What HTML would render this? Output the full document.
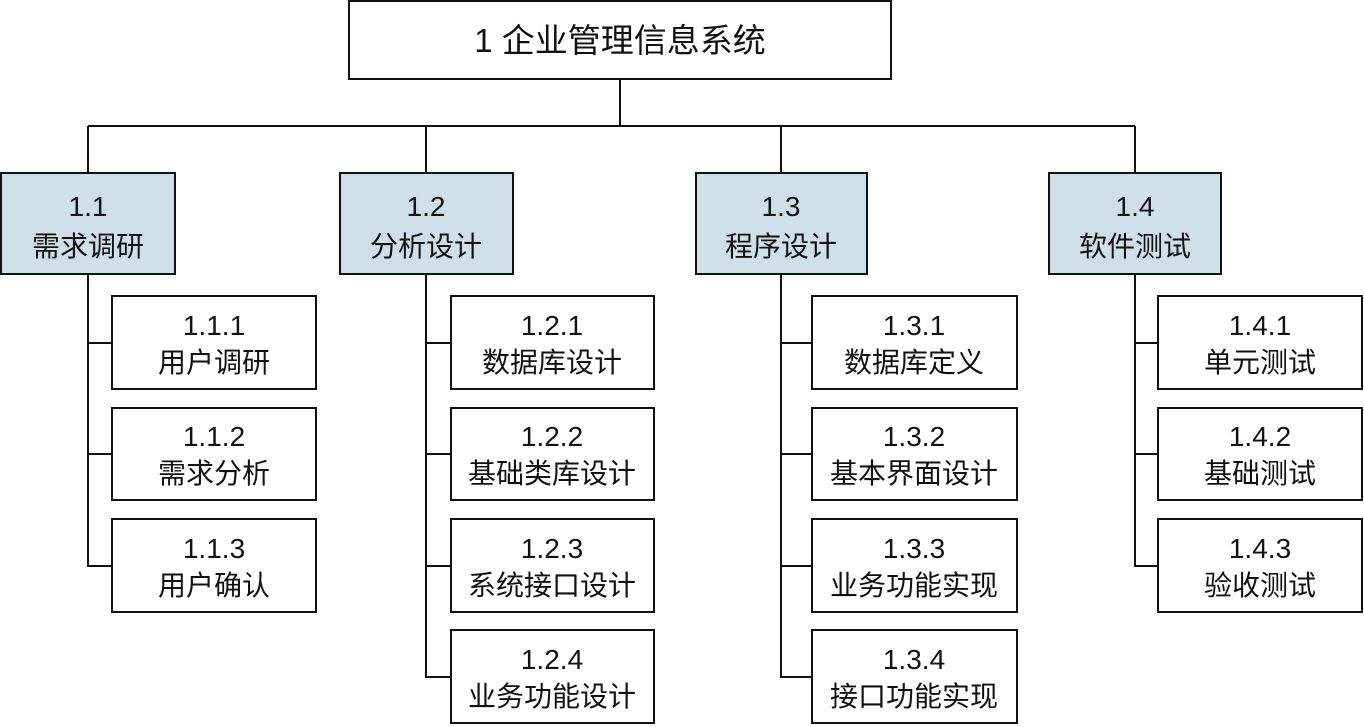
<!DOCTYPE html>
<html><head><meta charset="utf-8"><style>
html,body{margin:0;padding:0;background:#fff;}
svg{display:block;}
text{font-family:"Liberation Sans","Noto Sans CJK SC",sans-serif;fill:#111;text-anchor:middle;}
</style></head><body>
<svg width="1364" height="727" viewBox="0 0 1364 727" xmlns="http://www.w3.org/2000/svg">
<g stroke="#111" stroke-width="2" fill="none">
<line x1="620" y1="80" x2="620" y2="126"/>
<line x1="88" y1="126" x2="1135" y2="126"/>
<line x1="88" y1="126" x2="88" y2="172"/>
<line x1="426" y1="126" x2="426" y2="172"/>
<line x1="781" y1="126" x2="781" y2="172"/>
<line x1="1135" y1="126" x2="1135" y2="172"/>
<polyline points="88,275 88,566 111,566"/><line x1="88" y1="343" x2="111" y2="343"/><line x1="88" y1="454" x2="111" y2="454"/>
<polyline points="426,275 426,677 450,677"/><line x1="426" y1="343" x2="450" y2="343"/><line x1="426" y1="454" x2="450" y2="454"/><line x1="426" y1="566" x2="450" y2="566"/>
<polyline points="781,275 781,677 811,677"/><line x1="781" y1="343" x2="811" y2="343"/><line x1="781" y1="454" x2="811" y2="454"/><line x1="781" y1="566" x2="811" y2="566"/>
<polyline points="1135,275 1135,566 1157,566"/><line x1="1135" y1="343" x2="1157" y2="343"/><line x1="1135" y1="454" x2="1157" y2="454"/>
</g>
<g stroke="#111" stroke-width="2">
<rect x="349" y="1" width="542" height="78" fill="#fff"/>
<rect x="1" y="173" width="174" height="101" fill="#cfe0e8"/>
<rect x="340" y="173" width="173" height="101" fill="#cfe0e8"/>
<rect x="696" y="173" width="171" height="101" fill="#cfe0e8"/>
<rect x="1049" y="173" width="172" height="101" fill="#cfe0e8"/>
<g fill="#fff">
<rect x="112" y="296" width="204" height="93"/><rect x="112" y="408" width="204" height="92"/><rect x="112" y="519" width="204" height="93"/>
<rect x="451" y="296" width="203" height="93"/><rect x="451" y="408" width="203" height="92"/><rect x="451" y="519" width="203" height="93"/><rect x="451" y="630" width="203" height="93"/>
<rect x="812" y="296" width="205" height="93"/><rect x="812" y="408" width="205" height="92"/><rect x="812" y="519" width="205" height="93"/><rect x="812" y="630" width="205" height="93"/>
<rect x="1158" y="296" width="204" height="93"/><rect x="1158" y="408" width="204" height="92"/><rect x="1158" y="519" width="204" height="93"/>
</g></g>
<text x="620" y="52" font-size="33">1 企业管理信息系统</text>
<g font-size="28">
<text x="88" y="216">1.1</text><text x="88" y="256">需求调研</text>
<text x="426" y="216">1.2</text><text x="426" y="256">分析设计</text>
<text x="781" y="216">1.3</text><text x="781" y="256">程序设计</text>
<text x="1135" y="216">1.4</text><text x="1135" y="256">软件测试</text>
<text x="214" y="335">1.1.1</text><text x="214" y="372">用户调研</text>
<text x="214" y="446">1.1.2</text><text x="214" y="483">需求分析</text>
<text x="214" y="558">1.1.3</text><text x="214" y="595">用户确认</text>
<text x="552" y="335">1.2.1</text><text x="552" y="372">数据库设计</text>
<text x="552" y="446">1.2.2</text><text x="552" y="483">基础类库设计</text>
<text x="552" y="558">1.2.3</text><text x="552" y="595">系统接口设计</text>
<text x="552" y="669">1.2.4</text><text x="552" y="706">业务功能设计</text>
<text x="914" y="335">1.3.1</text><text x="914" y="372">数据库定义</text>
<text x="914" y="446">1.3.2</text><text x="914" y="483">基本界面设计</text>
<text x="914" y="558">1.3.3</text><text x="914" y="595">业务功能实现</text>
<text x="914" y="669">1.3.4</text><text x="914" y="706">接口功能实现</text>
<text x="1260" y="335">1.4.1</text><text x="1260" y="372">单元测试</text>
<text x="1260" y="446">1.4.2</text><text x="1260" y="483">基础测试</text>
<text x="1260" y="558">1.4.3</text><text x="1260" y="595">验收测试</text>
</g>
</svg>
</body></html>
